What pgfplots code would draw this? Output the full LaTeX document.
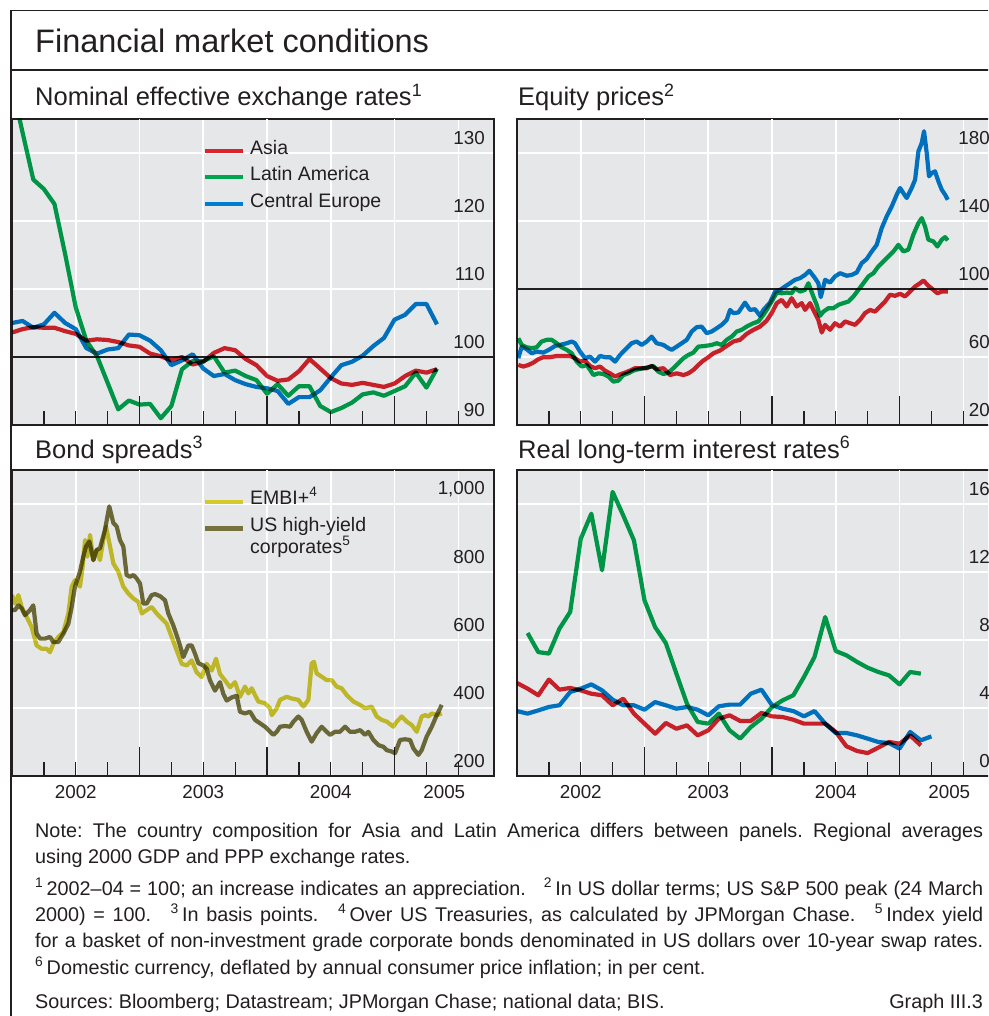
\documentclass[border=0pt]{standalone}
\usepackage{fontspec}
\setmainfont{Liberation Sans}
\usepackage{pgfplots}
\usepackage{pgfplotstable}
\pgfplotsset{compat=1.18}

\definecolor{bggrey}{RGB}{230,231,232}
\definecolor{frame}{RGB}{35,31,32}
\definecolor{asia}{RGB}{220,36,46}
\definecolor{latam}{RGB}{0,165,78}
\definecolor{ceur}{RGB}{0,124,208}
\definecolor{embi}{RGB}{210,202,46}
\definecolor{hy}{RGB}{117,114,62}

\newcommand\titlefont{\fontsize{32.5pt}{38pt}\selectfont}
\newcommand\ptitlefont{\fontsize{25.5pt}{30pt}\selectfont}
\newcommand\legfont{\fontsize{19.5pt}{22pt}\selectfont}
\newcommand\tickfont{\fontsize{18.8pt}{22pt}\selectfont}
\newcommand\notefont{\fontsize{19.8pt}{26pt}\selectfont}

% Nominal effective exchange rates (monthly)
\pgfplotstableread{
year asia latam ceur
2002.000 103.6 140.0 105.0
2002.083 104.1 133.0 105.3
2002.167 104.4 126.1 104.3
2002.250 104.3 124.7 104.8
2002.333 104.3 122.5 106.5
2002.417 103.8 115.1 105.0
2002.500 103.4 107.3 104.1
2002.583 102.4 102.4 101.3
2002.667 102.6 100.1 100.5
2002.750 102.5 96.2 101.1
2002.833 102.2 92.3 101.3
2002.917 101.7 93.6 103.3
2003.000 101.5 93.0 103.2
2003.083 100.5 93.1 102.4
2003.167 100.1 91.0 101.0
2003.250 99.5 92.8 98.8
2003.333 100.0 98.2 99.5
2003.417 98.9 99.4 100.4
2003.500 99.3 99.4 98.3
2003.583 100.6 100.1 97.2
2003.667 101.3 97.7 97.5
2003.750 101.0 98.0 96.6
2003.833 99.7 97.2 96.0
2003.917 98.8 96.6 95.6
2004.000 97.2 94.6 95.4
2004.083 96.5 96.0 95.0
2004.167 96.7 94.3 93.1
2004.250 97.9 95.7 94.1
2004.333 99.7 95.7 94.1
2004.417 98.3 92.8 95.1
2004.500 96.9 91.9 97.0
2004.583 96.1 92.5 98.8
2004.667 95.9 93.3 99.3
2004.750 96.2 94.5 100.2
2004.833 95.9 94.8 101.6
2004.917 95.6 94.3 102.8
2005.000 96.1 95.0 105.5
2005.083 97.2 95.7 106.2
2005.167 98.0 97.7 107.8
2005.250 97.7 95.5 107.8
2005.333 98.2 98.3 104.8
}\neer

% Equity prices
\pgfplotstableread{
year val
2002.010 59.3
2002.037 66.1
2002.076 64.6
2002.115 62.2
2002.154 63.2
2002.207 62.6
2002.259 64.6
2002.298 66.5
2002.337 67.1
2002.390 68.1
2002.429 69.1
2002.455 68.1
2002.494 63.2
2002.533 59.3
2002.573 60.2
2002.612 57.3
2002.651 60.6
2002.690 59.9
2002.729 59.9
2002.769 57.3
2002.808 61.2
2002.847 64.2
2002.899 68.1
2002.939 69.1
2002.978 67.1
2003.017 69.1
2003.056 72.0
2003.095 68.1
2003.148 67.1
2003.187 65.2
2003.213 64.2
2003.252 66.1
2003.292 68.1
2003.331 70.1
2003.370 75.0
2003.409 77.5
2003.448 77.9
2003.488 74.0
2003.527 75.0
2003.566 76.9
2003.605 78.9
2003.644 81.8
2003.671 87.7
2003.697 85.8
2003.736 86.2
2003.788 92.0
2003.827 87.7
2003.867 88.1
2003.906 84.2
2003.932 87.7
2003.984 92.0
2004.024 98.5
2004.063 99.5
2004.102 101.5
2004.141 103.4
2004.180 105.4
2004.220 106.4
2004.259 108.3
2004.293 110.7
2004.337 106.4
2004.363 103.4
2004.382 95.2
2004.416 105.4
2004.455 103.8
2004.494 107.4
2004.533 109.3
2004.586 107.8
2004.625 108.3
2004.664 109.7
2004.703 115.2
2004.742 117.6
2004.782 122.1
2004.821 126.0
2004.860 135.8
2004.899 142.7
2004.939 148.6
2004.978 155.5
2005.004 159.4
2005.030 156.4
2005.056 153.5
2005.095 159.4
2005.122 164.3
2005.148 181.0
2005.174 185.9
2005.192 192.8
2005.213 180.0
2005.231 166.3
2005.252 168.2
2005.278 169.2
2005.305 163.3
2005.331 158.4
2005.357 155.5
2005.378 152.5
}\eqceur

\pgfplotstableread{
year val
2002.010 71.0
2002.037 67.1
2002.076 65.7
2002.115 65.2
2002.154 65.7
2002.193 69.1
2002.233 70.1
2002.272 70.1
2002.311 68.1
2002.350 65.7
2002.390 64.2
2002.429 62.2
2002.468 57.3
2002.507 54.4
2002.546 55.3
2002.573 52.4
2002.599 49.4
2002.638 50.4
2002.677 50.0
2002.716 48.5
2002.756 45.5
2002.795 46.1
2002.834 49.4
2002.873 50.4
2002.912 52.0
2002.952 52.8
2002.991 53.4
2003.030 54.0
2003.069 54.7
2003.108 51.4
2003.148 50.0
2003.187 50.8
2003.226 53.4
2003.265 56.3
2003.305 59.3
2003.344 61.2
2003.383 62.6
2003.422 66.1
2003.475 66.5
2003.527 67.1
2003.566 68.1
2003.605 67.1
2003.644 70.1
2003.684 72.0
2003.723 75.0
2003.762 76.0
2003.801 77.9
2003.854 79.9
2003.893 80.9
2003.932 84.8
2003.958 87.7
2003.997 92.6
2004.037 97.9
2004.076 97.5
2004.115 97.9
2004.154 97.5
2004.180 100.5
2004.220 98.5
2004.259 99.5
2004.285 103.4
2004.324 95.6
2004.350 90.7
2004.376 84.2
2004.403 86.7
2004.442 88.7
2004.481 88.7
2004.520 90.7
2004.559 91.7
2004.599 92.6
2004.638 95.6
2004.677 99.5
2004.716 103.4
2004.756 107.4
2004.795 109.3
2004.834 113.3
2004.873 116.2
2004.912 119.1
2004.952 122.1
2004.991 126.0
2005.030 122.1
2005.069 123.1
2005.108 131.9
2005.148 138.8
2005.174 141.7
2005.200 136.8
2005.226 129.0
2005.265 128.0
2005.297 125.0
2005.331 129.0
2005.357 130.5
2005.378 128.6
}\eqlatam

\pgfplotstableread{
year val
2002.010 55.3
2002.050 54.4
2002.089 55.3
2002.128 56.7
2002.167 58.7
2002.207 59.9
2002.259 59.9
2002.311 60.6
2002.363 60.6
2002.416 60.6
2002.455 59.3
2002.494 57.3
2002.533 57.9
2002.573 54.7
2002.612 53.4
2002.651 54.4
2002.690 52.0
2002.729 50.4
2002.769 48.5
2002.808 49.8
2002.847 50.8
2002.886 52.0
2002.925 53.4
2002.965 53.4
2003.017 53.4
2003.056 54.7
2003.095 52.8
2003.148 53.4
2003.200 49.4
2003.252 50.4
2003.305 49.4
2003.344 50.4
2003.383 52.4
2003.422 55.3
2003.461 57.9
2003.501 59.9
2003.540 62.2
2003.592 63.8
2003.644 66.5
2003.697 69.1
2003.749 70.1
2003.801 73.6
2003.854 76.0
2003.906 77.9
2003.958 81.4
2003.997 85.8
2004.037 91.7
2004.076 93.6
2004.115 89.7
2004.154 94.6
2004.193 89.7
2004.233 91.7
2004.259 87.7
2004.298 91.7
2004.337 85.8
2004.363 81.8
2004.390 74.4
2004.416 78.9
2004.455 76.0
2004.494 79.9
2004.533 77.9
2004.573 80.9
2004.612 79.9
2004.651 78.9
2004.690 81.8
2004.729 85.8
2004.769 87.7
2004.808 86.7
2004.847 89.7
2004.886 92.6
2004.925 96.6
2004.965 96.0
2005.004 97.2
2005.043 95.6
2005.082 98.5
2005.122 101.5
2005.161 103.4
2005.187 105.0
2005.226 101.9
2005.265 99.5
2005.297 97.5
2005.331 98.5
2005.378 98.5
}\eqasia

% Bond spreads
\pgfplotstableread{
year val
2002.000 732
2002.024 707
2002.050 732
2002.076 697
2002.115 668
2002.154 638
2002.193 584
2002.233 574
2002.272 574
2002.298 564
2002.324 589
2002.363 609
2002.403 624
2002.442 678
2002.468 757
2002.494 776
2002.533 757
2002.554 816
2002.573 894
2002.591 845
2002.612 909
2002.638 835
2002.664 865
2002.690 835
2002.716 894
2002.737 934
2002.756 899
2002.769 875
2002.795 825
2002.834 801
2002.873 757
2002.912 737
2002.952 722
2002.991 712
2003.017 678
2003.056 688
2003.095 697
2003.135 678
2003.174 663
2003.213 648
2003.252 609
2003.292 569
2003.331 530
2003.370 525
2003.409 540
2003.448 505
2003.488 491
2003.527 530
2003.566 510
2003.600 545
2003.631 500
2003.671 481
2003.710 461
2003.749 476
2003.788 433
2003.827 463
2003.854 443
2003.880 458
2003.906 438
2003.932 419
2003.984 414
2004.024 399
2004.037 379
2004.076 399
2004.102 424
2004.154 433
2004.193 428
2004.246 424
2004.285 404
2004.324 424
2004.350 531
2004.368 536
2004.389 502
2004.429 492
2004.468 482
2004.507 482
2004.546 463
2004.585 458
2004.625 438
2004.677 419
2004.730 409
2004.769 399
2004.821 404
2004.860 375
2004.900 365
2004.939 360
2004.991 345
2005.017 360
2005.056 375
2005.095 360
2005.135 350
2005.174 330
2005.213 375
2005.240 379
2005.266 375
2005.292 384
2005.331 379
2005.370 384
}\embi

\pgfplotstableread{
year val
2002.000 688
2002.024 688
2002.050 702
2002.076 693
2002.102 673
2002.141 688
2002.167 702
2002.193 619
2002.220 604
2002.259 604
2002.298 609
2002.324 594
2002.363 594
2002.403 619
2002.442 648
2002.468 697
2002.494 757
2002.533 801
2002.559 845
2002.580 875
2002.607 890
2002.638 835
2002.664 865
2002.690 870
2002.729 924
2002.763 993
2002.795 944
2002.821 934
2002.847 894
2002.873 875
2002.899 791
2002.925 786
2002.952 791
2002.978 781
2003.004 766
2003.030 707
2003.056 707
2003.095 732
2003.122 735
2003.161 729
2003.200 717
2003.226 678
2003.265 643
2003.305 599
2003.344 550
2003.383 584
2003.409 584
2003.435 560
2003.461 532
2003.501 525
2003.527 515
2003.553 481
2003.592 451
2003.631 476
2003.658 441
2003.684 422
2003.723 431
2003.762 436
2003.788 389
2003.827 384
2003.867 389
2003.906 365
2003.945 355
2003.984 345
2004.024 330
2004.050 321
2004.076 330
2004.102 345
2004.141 347
2004.180 345
2004.207 360
2004.246 375
2004.272 365
2004.311 330
2004.350 301
2004.389 326
2004.429 345
2004.468 330
2004.494 321
2004.533 330
2004.572 330
2004.612 345
2004.651 330
2004.690 330
2004.730 335
2004.769 321
2004.795 330
2004.834 306
2004.873 291
2004.912 286
2004.939 276
2004.978 272
2005.004 267
2005.043 306
2005.082 308
2005.122 306
2005.148 281
2005.187 262
2005.213 276
2005.252 316
2005.292 345
2005.331 379
2005.370 409
}\hy

% Real long-term interest rates (monthly)
\pgfplotstableread{
year latam asia ceur
2002.000 nan 5.47 3.82
2002.083 8.41 5.14 3.67
2002.167 7.29 4.75 3.86
2002.250 7.20 5.67 4.06
2002.333 8.67 5.08 4.16
2002.417 9.65 5.18 4.94
2002.500 13.96 5.04 5.14
2002.583 15.43 4.84 5.39
2002.667 12.10 4.75 5.04
2002.750 16.71 4.16 4.49
2002.833 15.33 4.55 4.16
2002.917 13.86 3.67 4.16
2003.000 10.33 3.08 3.90
2003.083 8.76 2.49 4.35
2003.167 7.82 3.12 4.16
2003.250 6.02 2.78 3.96
2003.333 4.25 2.98 4.06
2003.417 3.18 2.39 3.90
2003.500 3.08 2.69 3.57
2003.583 3.67 3.37 4.10
2003.667 2.69 3.57 4.20
2003.750 2.20 3.24 4.20
2003.833 2.88 3.24 4.84
2003.917 3.37 3.71 5.08
2004.000 4.06 3.51 4.16
2004.083 4.45 3.47 3.96
2004.167 4.75 3.31 3.82
2004.250 5.82 3.08 3.51
2004.333 7.00 3.08 3.82
2004.417 9.35 3.08 3.08
2004.500 7.35 2.59 2.53
2004.583 7.10 1.75 2.53
2004.667 6.71 1.47 2.39
2004.750 6.37 1.35 2.20
2004.833 6.12 1.67 2.00
2004.917 5.92 2.00 1.94
2005.000 5.39 1.90 1.61
2005.083 6.12 2.39 2.59
2005.167 6.02 1.80 2.10
2005.250 nan nan 2.33
}\real

\pgfplotsset{
  panel/.style={
    scale only axis, width=482pt, height=306pt, anchor=north west,
    xmin=2002, xmax=2005.78,
    axis background/.style={fill=bggrey},
    axis line style={draw=frame, line width=1.4pt},
    clip mode=individual,
    unbounded coords=discard,
    xtick={2002.5,2003,2003.5,2004,2004.5,2005,2005.5},
    minor xtick={2002.25,2002.75,2003.25,2003.75,2004.25,2004.75,2005.25},
    xticklabels={},
    extra x ticks={2003,2004,2005},
    extra x tick labels={},
    extra x tick style={major tick length=29pt},
    xtick pos=left, ytick pos=right,
    tick align=inside,
    major tick length=14pt, minor tick length=14pt,
    tick style={draw=frame, line width=1.3pt},
    ytick style={draw=none},
    xmajorgrids, ymajorgrids,
    major grid style={draw=white, line width=1.6pt},
    yticklabel pos=right,
    yticklabel style={anchor=east, xshift=-9pt, yshift=15pt, inner sep=0pt, font=\tickfont, text=frame},
  },
  ser/.style={draw=#1, line width=4.2pt, line join=round, blend mode=multiply, no markers},
  refline/.style={extra y ticks={100}, extra y tick labels={},
    extra y tick style={major grid style={draw=frame, line width=1.3pt}, ytick style={draw=none}}},
}

\begin{document}
\frenchspacing
\begin{tikzpicture}[x=1pt,y=1pt]
\useasboundingbox (0,0) rectangle (988,-1016);
\clip (0,0) rectangle (988,-1016);
\fill[white] (0,0) rectangle (988,-1016);

% ---------- panel 1 ----------
\begin{axis}[panel, refline, at={(12pt,-119pt)},
  ymin=90, ymax=135, ytick={90,100,110,120,130},
  yticklabels={90,100,110,120,130}]
\addplot[ser=asia] table[x=year,y=asia] {\neer};
\addplot[ser=latam] table[x=year,y=latam] {\neer};
\addplot[ser=ceur] table[x=year,y=ceur] {\neer};
\end{axis}

% ---------- panel 2 ----------
\begin{axis}[panel, refline, at={(517pt,-119pt)},
  ymin=20, ymax=200, ytick={20,60,100,140,180},
  yticklabels={20,60,100,140,180}]
\addplot[ser=asia] table[x=year,y=val] {\eqasia};
\addplot[ser=latam] table[x=year,y=val] {\eqlatam};
\addplot[ser=ceur] table[x=year,y=val] {\eqceur};
\end{axis}

% ---------- panel 3 ----------
\begin{axis}[panel, at={(12pt,-470pt)},
  ymin=200, ymax=1100, ytick={200,400,600,800,1000},
  yticklabels={200,400,600,800,{1,000}}]
\addplot[ser=embi] table[x=year,y=val] {\embi};
\addplot[ser=hy] table[x=year,y=val] {\hy};
\node[font=\tickfont, text=frame, anchor=base, yshift=-22pt] at (axis cs:2002.5,200) {2002};
\node[font=\tickfont, text=frame, anchor=base, yshift=-22pt] at (axis cs:2003.5,200) {2003};
\node[font=\tickfont, text=frame, anchor=base, yshift=-22pt] at (axis cs:2004.5,200) {2004};
\node[font=\tickfont, text=frame, anchor=base, yshift=-22pt] at (axis cs:2005.39,200) {2005};
\end{axis}

% ---------- panel 4 ----------
\begin{axis}[panel, at={(517pt,-470pt)},
  ymin=0, ymax=18, ytick={0,4,8,12,16},
  yticklabels={0,4,8,12,16}]
\addplot[ser=asia] table[x=year,y=asia] {\real};
\addplot[ser=latam] table[x=year,y=latam] {\real};
\addplot[ser=ceur] table[x=year,y=ceur] {\real};
\node[font=\tickfont, text=frame, anchor=base, yshift=-22pt] at (axis cs:2002.5,0) {2002};
\node[font=\tickfont, text=frame, anchor=base, yshift=-22pt] at (axis cs:2003.5,0) {2003};
\node[font=\tickfont, text=frame, anchor=base, yshift=-22pt] at (axis cs:2004.5,0) {2004};
\node[font=\tickfont, text=frame, anchor=base, yshift=-22pt] at (axis cs:2005.39,0) {2005};
\end{axis}

% ---------- frame and titles ----------
\draw[frame, line width=1.4pt] (11,-1020) -- (11,-10.5) -- (995,-10.5);
\draw[frame, line width=1.2pt] (11,-70) -- (995,-70);
\node[anchor=base west, inner sep=0pt, font=\titlefont, text=frame] at (35,-53) {Financial market conditions};
\node[anchor=base west, inner sep=0pt, font=\ptitlefont, text=frame] at (35,-106) {Nominal effective exchange rates\textsuperscript{1}};
\node[anchor=base west, inner sep=0pt, font=\ptitlefont, text=frame] at (518,-106) {Equity prices\textsuperscript{2}};
\node[anchor=base west, inner sep=0pt, font=\ptitlefont, text=frame] at (35,-458) {Bond spreads\textsuperscript{3}};
\node[anchor=base west, inner sep=0pt, font=\ptitlefont, text=frame] at (518,-458) {Real long-term interest rates\textsuperscript{6}};

% ---------- legends ----------
\draw[asia, line width=4.2pt] (205,-151) -- (243,-151);
\draw[latam, line width=4.2pt] (205,-177) -- (243,-177);
\draw[ceur, line width=4.2pt] (205,-204) -- (243,-204);
\node[anchor=base west, inner sep=0pt, font=\legfont, text=frame] at (250,-154.5) {Asia};
\node[anchor=base west, inner sep=0pt, font=\legfont, text=frame] at (250,-180.5) {Latin America};
\node[anchor=base west, inner sep=0pt, font=\legfont, text=frame] at (250,-207.5) {Central Europe};

\draw[embi, line width=4.2pt] (205,-502) -- (243,-502);
\draw[hy, line width=4.2pt] (205,-528.5) -- (243,-528.5);
\node[anchor=base west, inner sep=0pt, font=\legfont, text=frame] at (250,-504) {EMBI+\textsuperscript{4}};
\node[anchor=base west, inner sep=0pt, font=\legfont, text=frame] at (250,-531) {US high-yield};
\node[anchor=base west, inner sep=0pt, font=\legfont, text=frame] at (250,-553) {corporates\textsuperscript{5}};

% ---------- notes ----------
\begin{scope}[every node/.style={anchor=base west, inner sep=0pt, font=\notefont, text=frame}]
\node at (35,-837) {\makebox[948pt][s]{Note: The country composition for Asia and Latin America differs between panels. Regional averages}};
\node at (35,-863) {using 2000 GDP and PPP exchange rates.};
\node at (35,-895) {\makebox[948pt][s]{\textsuperscript{1}\,2002–04 = 100; an increase indicates an appreciation.\hspace{12pt} \textsuperscript{2}\,In US dollar terms; US S\&P 500 peak (24 March}};
\node at (35,-921) {\makebox[948pt][s]{2000) = 100.\hspace{12pt} \textsuperscript{3}\,In basis points.\hspace{12pt} \textsuperscript{4}\,Over US Treasuries, as calculated by JPMorgan Chase.\hspace{12pt} \textsuperscript{5}\,Index yield}};
\node at (35,-947) {\makebox[948pt][s]{for a basket of non-investment grade corporate bonds denominated in US dollars over 10-year swap rates.}};
\node at (35,-974) {\textsuperscript{6}\,Domestic currency, deflated by annual consumer price inflation; in per cent.};
\node at (35,-1008) {Sources: Bloomberg; Datastream; JPMorgan Chase; national data; BIS.};
\node[anchor=base east] at (983,-1008) {Graph III.3};
\end{scope}
\end{tikzpicture}
\end{document}
